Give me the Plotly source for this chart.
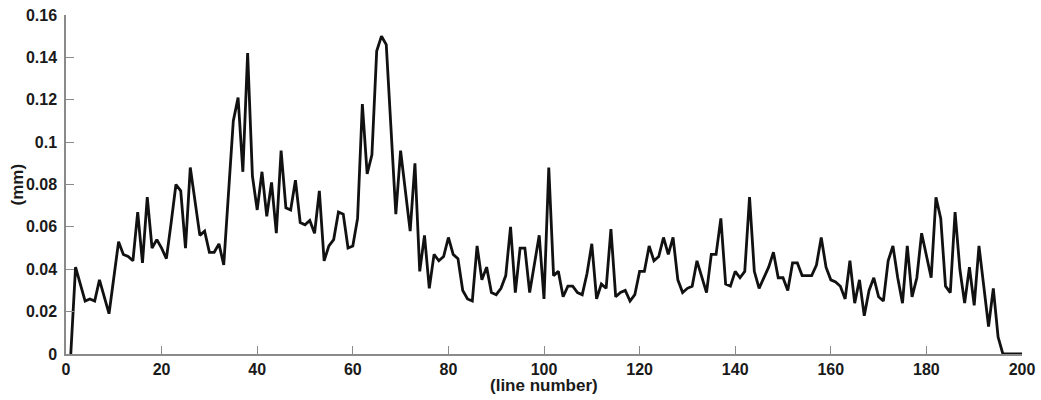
import plotly.graph_objects as go

line_number = list(range(1, 201))
depth_mm = [
    0.000, 0.041, 0.033, 0.025, 0.026, 0.025, 0.035, 0.027, 0.019, 0.036,
    0.053, 0.047, 0.046, 0.044, 0.067, 0.043, 0.074, 0.050, 0.054, 0.050,
    0.045, 0.062, 0.080, 0.077, 0.050, 0.088, 0.072, 0.056, 0.058, 0.048,
    0.048, 0.052, 0.042, 0.076, 0.110, 0.121, 0.086, 0.142, 0.084, 0.068,
    0.086, 0.065, 0.081, 0.057, 0.096, 0.069, 0.068, 0.082, 0.062, 0.061,
    0.063, 0.057, 0.077, 0.044, 0.051, 0.054, 0.067, 0.066, 0.050, 0.051,
    0.064, 0.118, 0.085, 0.094, 0.143, 0.150, 0.146, 0.106, 0.066, 0.096,
    0.076, 0.058, 0.090, 0.039, 0.056, 0.031, 0.047, 0.044, 0.046, 0.055,
    0.047, 0.045, 0.030, 0.026, 0.025, 0.051, 0.035, 0.041, 0.029, 0.028,
    0.031, 0.037, 0.060, 0.029, 0.050, 0.050, 0.029, 0.042, 0.056, 0.026,
    0.088, 0.037, 0.039, 0.027, 0.032, 0.032, 0.029, 0.028, 0.038, 0.052,
    0.026, 0.033, 0.031, 0.059, 0.027, 0.029, 0.030, 0.025, 0.028, 0.039,
    0.039, 0.051, 0.044, 0.046, 0.055, 0.047, 0.055, 0.035, 0.029, 0.031,
    0.032, 0.044, 0.037, 0.029, 0.047, 0.047, 0.064, 0.033, 0.032, 0.039,
    0.036, 0.039, 0.074, 0.039, 0.031, 0.036, 0.041, 0.048, 0.036, 0.036,
    0.030, 0.043, 0.043, 0.037, 0.037, 0.037, 0.042, 0.055, 0.041, 0.035,
    0.034, 0.032, 0.026, 0.044, 0.024, 0.035, 0.018, 0.030, 0.036, 0.027,
    0.025, 0.044, 0.051, 0.036, 0.024, 0.051, 0.027, 0.036, 0.057, 0.047,
    0.036, 0.074, 0.064, 0.032, 0.029, 0.067, 0.040, 0.024, 0.041, 0.023,
    0.051, 0.032, 0.013, 0.031, 0.008, 0.000, 0.000, 0.000, 0.000, 0.000,
]

x_ticks = [0, 20, 40, 60, 80, 100, 120, 140, 160, 180, 200]
x_labels = ["0", "20", "40", "60", "80", "100", "120", "140", "160", "180", "200"]
y_ticks = [0, 0.02, 0.04, 0.06, 0.08, 0.1, 0.12, 0.14, 0.16]
y_labels = ["0", "0.02", "0.04", "0.06", "0.08", "0.1", "0.12", "0.14", "0.16"]

fig = go.Figure(go.Scatter(
    x=line_number, y=depth_mm, mode="lines",
    line=dict(color="#111111", width=2.8),
    hoverinfo="skip", showlegend=False,
))

font = dict(family="Liberation Sans, Arial, sans-serif", size=16, color="#1a1a1a")
axis_common = dict(
    showline=True, linecolor="#8a8a8a", linewidth=1.5, mirror=False,
    showgrid=False, zeroline=False, automargin=False,
    ticks="inside", ticklen=8, tickwidth=1, tickcolor="#8a8a8a",
    tickfont=font,
)

fig.update_layout(
    width=1041, height=400,
    margin=dict(l=66, r=19, t=15, b=46),
    paper_bgcolor="white", plot_bgcolor="white",
    font=font,
    xaxis=dict(range=[0, 200], tickvals=x_ticks,
               ticktext=["<b>%s</b>" % t for t in x_labels],
               **axis_common),
    yaxis=dict(range=[0, 0.16], tickvals=y_ticks,
               ticktext=["<b>%s</b>" % t for t in y_labels],
               ticklabelstandoff=4,
               **axis_common),
    annotations=[
        dict(text="<b>(line number)</b>", xref="paper", yref="paper",
             x=0.5, y=-31 / 339, xanchor="center", yanchor="middle",
             showarrow=False, font=dict(font, size=17)),
        dict(text="<b>(mm)</b>", xref="paper", yref="paper",
             x=-49 / 956, y=0.5, xanchor="center", yanchor="middle",
             textangle=-90, showarrow=False, font=dict(font, size=17)),
    ],
)

fig.write_html("out.html")
